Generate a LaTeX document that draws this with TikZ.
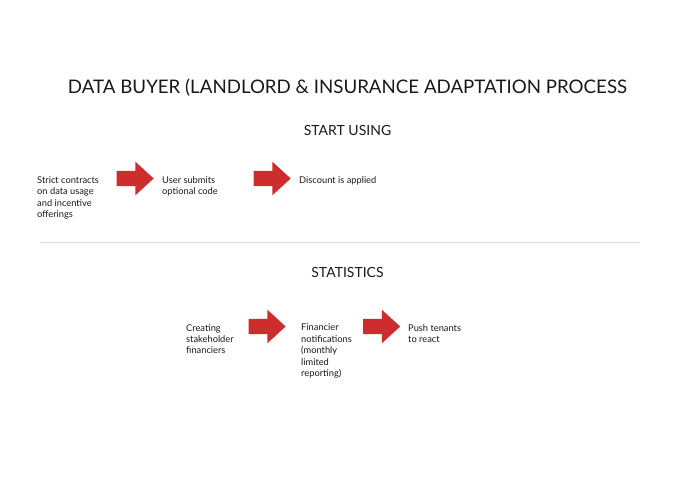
\documentclass[tikz,border=0pt]{standalone}
\usepackage{fontspec}
\setmainfont{Lato}
\usetikzlibrary{shapes.arrows, positioning}
\definecolor{FlowRed}{RGB}{205,45,45}
\definecolor{FlowText}{RGB}{25,25,25}
\definecolor{RuleGray}{RGB}{222,222,222}

\tikzset{
  steptext/.style={anchor=north west, inner sep=0pt, align=left,
    font=\fontsize{9.3}{11.4}\selectfont, text=FlowText},
  blockarrow/.style={single arrow, fill=FlowRed, draw=none,
    minimum height=37pt, inner xsep=0pt, inner ysep=7.5pt,
    single arrow head extend=9pt, single arrow tip angle=85},
  heading/.style={font=\fontsize{14}{16}\selectfont, text=FlowText}
}

\begin{document}
\begin{tikzpicture}[x=1pt, y=-1pt]
        \useasboundingbox (0,0) rectangle (695,494);

        \node[font=\fontsize{18.7}{21}\selectfont, text=FlowText] (title) at (347.5,88)
              {DATA BUYER (LANDLORD \& INSURANCE ADAPTATION PROCESS};

        % Start using
        \node[heading] (start) at (347.5,130.5) {START USING};
        \node[steptext] (contracts) at (37,176.5)
              {Strict contracts\\on data usage\\and incentive\\offerings};
        \node[blockarrow] (arrA) at (131,178.5) {};
        \node[steptext] (submits) at (162,176.5) {User submits\\optional code};
        \node[blockarrow] (arrB) at (268,178.5) {};
        \node[steptext] (discount) at (299,176.5) {Discount is applied};

        % Divider
        \draw[RuleGray, line width=1pt] (40,242) -- (640,242);

        % Statistics
        \node[heading] (stats) at (347.5,272.5) {STATISTICS};
        \node[steptext] (creating) at (186,324)
              {Creating\\stakeholder\\financiers};
        \node[blockarrow] (arrC) at (263,326.5) {};
        \node[steptext] (notify) at (301,324)
              {Financier\\notifications\\(monthly\\limited\\reporting)};
        \node[blockarrow] (arrD) at (377.5,326.5) {};
        \node[steptext] (push) at (408,324) {Push tenants\\to react};
      \end{tikzpicture}
\end{document}
